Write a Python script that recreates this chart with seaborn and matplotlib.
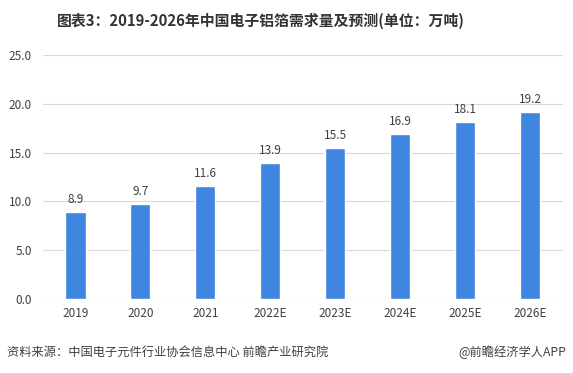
import matplotlib
matplotlib.use("Agg")
import matplotlib.pyplot as plt
import seaborn as sns
import pandas as pd

categories = ["2019", "2020", "2021", "2022E", "2023E", "2024E", "2025E", "2026E"]
values = [8.9, 9.7, 11.6, 13.9, 15.5, 16.9, 18.1, 19.2]
yticks = [0, 5, 10, 15, 20, 25]

sns.set_theme(style="white")
plt.rcParams['font.family'] = ['Noto Sans CJK SC', 'DejaVu Sans']

df = pd.DataFrame({"year": categories, "value": values})

fig = plt.figure(figsize=(5.73, 3.73), dpi=100)
ax = fig.add_axes([0.075, 0.198, 0.907, 0.655])
sns.barplot(data=df, x="year", y="value", color="#3F86E0", width=0.31, saturation=1, ax=ax)

ax.set_ylim(0, 25)
ax.set_yticks(yticks)
ax.set_yticklabels([f"{t:.1f}" for t in yticks], fontsize=8.5, color="#404040")
ax.tick_params(axis='x', labelsize=8.5, colors="#404040", length=0, pad=6)
ax.tick_params(axis='y', length=0, pad=8)
ax.yaxis.grid(True, color="#D9D9D9", linewidth=0.8)
ax.set_axisbelow(True)
for s in ax.spines.values():
    s.set_visible(False)
ax.set_xlabel("")
ax.set_ylabel("")

for i, v in enumerate(values):
    ax.text(i, v + 0.6, f"{v:.1f}", ha="center", va="bottom", fontsize=8.5, color="#404040")

fig.text(0.456, 0.945, "图表3：2019-2026年中国电子铝箔需求量及预测(单位：万吨)", ha="center", va="center",
         fontsize=10.7, fontweight="bold", color="#333333")
fig.text(0.012, 0.056, "资料来源：中国电子元件行业协会信息中心 前瞻产业研究院", ha="left", va="center",
         fontsize=8.8, color="#404040")
fig.text(0.988, 0.056, "@前瞻经济学人APP", ha="right", va="center", fontsize=8.8, color="#404040")

fig.savefig("out.png", dpi=100)
